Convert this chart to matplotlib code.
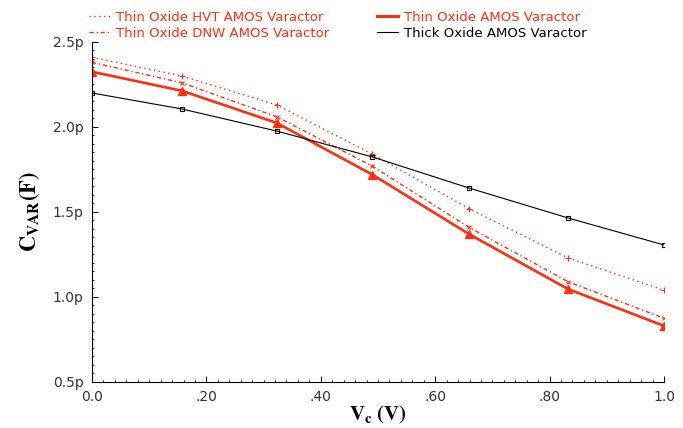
import matplotlib
matplotlib.use("Agg")
import matplotlib.pyplot as plt
from matplotlib.lines import Line2D
from matplotlib.ticker import MultipleLocator, FixedLocator

# ---- data (capacitance in pF vs control voltage in V) ----
vc = [0.0, 0.157, 0.323, 0.490, 0.659, 0.832, 1.0]
c_hvt = [2.41, 2.30, 2.13, 1.84, 1.52, 1.23, 1.04]
c_dnw = [2.38, 2.26, 2.06, 1.77, 1.41, 1.09, 0.875]
c_thin = [2.325, 2.213, 2.024, 1.72, 1.37, 1.047, 0.83]
c_thick = [2.20, 2.106, 1.976, 1.824, 1.641, 1.465, 1.306]

xtick_vals = [0.0, 0.2, 0.4, 0.6, 0.8, 1.0]
xtick_labels = ["0.0", ".20", ".40", ".60", ".80", "1.0"]
ytick_vals = [0.5, 1.0, 1.5, 2.0, 2.5]
ytick_labels = ["0.5p", "1.0p", "1.5p", "2.0p", "2.5p"]

RED = "#ff2e12"
plt.rcParams["mathtext.fontset"] = "stix"

fig = plt.figure(figsize=(6.83, 4.28), dpi=100)
ax = fig.add_axes([0.1347, 0.1075, 0.8375, 0.7944])

ax.plot(vc, c_hvt, color=RED, linestyle=(0, (1, 2.5)), linewidth=1.0,
        marker="+", markersize=4, markeredgewidth=0.8)
ax.plot(vc, c_dnw, color=RED, linestyle=(0, (3, 2, 1, 2)), linewidth=1.0,
        marker="x", markersize=3, markeredgewidth=0.8)
ax.plot(vc, c_thin, color=RED, linestyle="-", linewidth=1.9,
        marker="^", markersize=6)
ax.plot(vc, c_thick, color="black", linestyle="-", linewidth=0.8,
        marker="s", markersize=3.5, markerfacecolor="none", markeredgewidth=0.8)

ax.set_xlim(0, 1.0)
ax.set_ylim(0.5, 2.5)
ax.xaxis.set_major_locator(FixedLocator(xtick_vals))
ax.set_xticklabels(xtick_labels)
ax.yaxis.set_major_locator(FixedLocator(ytick_vals))
ax.set_yticklabels(ytick_labels)
ax.xaxis.set_minor_locator(MultipleLocator(0.02))
ax.yaxis.set_minor_locator(MultipleLocator(0.05))

ax.spines["top"].set_visible(False)
ax.spines["right"].set_visible(False)
ax.tick_params(which="major", direction="in", length=4, width=0.7,
               labelsize=10, labelcolor="#333333", pad=6)
ax.tick_params(which="minor", direction="in", length=1.6, width=0.6)

ax.set_xlabel(r"$\mathbf{V_c\ (V)}$", fontsize=15, labelpad=0)
ax.set_ylabel(r"$\mathbf{C_{VAR}(F)}$", fontsize=16, labelpad=8)

# ---- legend (two columns above the plot) ----
handles = [
    Line2D([], [], color=RED, linestyle=(0, (1, 2.5)), linewidth=1.0),
    Line2D([], [], color=RED, linestyle=(0, (3, 2, 1, 2)), linewidth=1.0),
    Line2D([], [], color=RED, linestyle="-", linewidth=2.2),
    Line2D([], [], color="black", linestyle="-", linewidth=0.8),
]
labels = [
    "Thin Oxide HVT AMOS Varactor",
    "Thin Oxide DNW AMOS Varactor",
    "Thin Oxide AMOS Varactor",
    "Thick Oxide AMOS Varactor",
]
leg = fig.legend(handles, labels, loc="upper left", bbox_to_anchor=(0.118, 0.993),
                 ncol=2, frameon=False, fontsize=9.5, handlelength=1.6,
                 handletextpad=0.45, columnspacing=3.65, labelspacing=0.2,
                 borderaxespad=0.2)
for txt, col in zip(leg.get_texts(), [RED, RED, RED, "black"]):
    txt.set_color(col)

fig.savefig("out.png", dpi=100)
plt.close(fig)
